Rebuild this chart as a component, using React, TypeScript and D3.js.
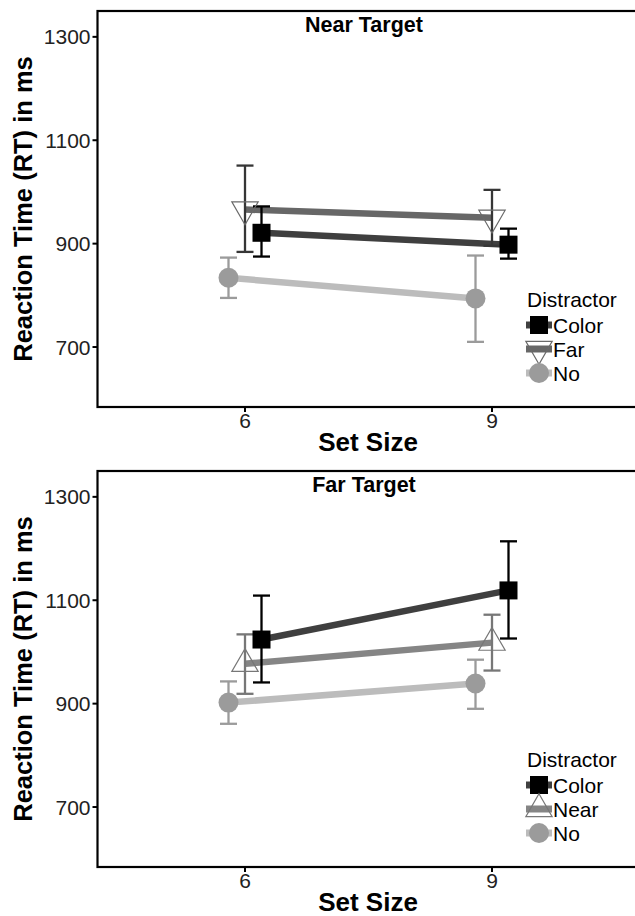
import React from 'react';
import * as d3 from 'd3';

// values (ms)
const setSizes = ['6', '9'];
const yTicks = [700, 900, 1100, 1300];

const nearDistractors = ['Color', 'Far', 'No'];
const nearMean = [[921, 898], [966, 950], [834, 794]];
const nearLow = [[875, 871], [884, 896], [795, 710]];
const nearHigh = [[972, 929], [1051, 1004], [873, 877]];

const farDistractors = ['Color', 'Near', 'No'];
const farMean = [[1024, 1119], [977, 1018], [902, 939]];
const farLow = [[941, 1026], [919, 964], [861, 890]];
const farHigh = [[1109, 1214], [1034, 1072], [943, 985]];

const W = 635;
const H = 916;
const FONT = '"Liberation Sans", Arial, Helvetica, sans-serif';

const styles = {
  Color: { line: '#3f3f3f', err: '#000', shape: 'square', fill: '#000', stroke: 'none', dodge: 16.5 },
  Far: { line: '#676767', err: '#363636', shape: 'tridown', fill: 'none', stroke: '#6a6a6a', dodge: 0 },
  Near: { line: '#858585', err: '#777', shape: 'triup', fill: 'none', stroke: '#777', dodge: 0 },
  No: { line: '#bcbcbc', err: '#9b9b9b', shape: 'circle', fill: '#9b9b9b', stroke: 'none', dodge: -16.5 },
};

const symbolPath = (shape) => {
  if (shape === 'square') return d3.symbol(d3.symbolSquare, 324)();
  if (shape === 'circle') return d3.symbol(d3.symbolCircle, 314)();
  return d3.symbol(d3.symbolTriangle, 300)();
};

const Marker = ({ shape, x, y, fill, stroke }) => (
  <path
    d={symbolPath(shape)}
    transform={`translate(${x},${y})${shape === 'tridown' ? ' rotate(180)' : ''}`}
    fill={fill}
    stroke={stroke}
    strokeWidth={1.2}
  />
);

const Panel = ({ top, title, distractors, mean, low, high }) => {
  const left = 97.5;
  const plotTop = 11;
  const plotBottom = 407;
  const x = d3.scalePoint().domain(setSizes).range([245, 492]);
  const y = d3.scaleLinear().domain([584, 1350]).range([plotBottom, plotTop]);
  const line = d3.line();

  return (
    <g transform={`translate(0,${top})`} fontFamily={FONT}>
      {/* lines */}
      {distractors.map((d, i) => {
        const s = styles[d];
        const pts = setSizes.map((k, j) => [x(k) + s.dodge, y(mean[i][j])]);
        return <path key={d} d={line(pts)} stroke={s.line} strokeWidth={6.5} fill="none" />;
      })}
      {/* error bars */}
      {distractors.map((d, i) => {
        const s = styles[d];
        return setSizes.map((k, j) => {
          const cx = x(k) + s.dodge;
          return (
            <g key={d + k} stroke={s.err} strokeWidth={2.3}>
              <line x1={cx} x2={cx} y1={y(low[i][j])} y2={y(high[i][j])} />
              <line x1={cx - 8.5} x2={cx + 8.5} y1={y(low[i][j])} y2={y(low[i][j])} />
              <line x1={cx - 8.5} x2={cx + 8.5} y1={y(high[i][j])} y2={y(high[i][j])} />
            </g>
          );
        });
      })}
      {/* points */}
      {distractors.map((d, i) => {
        const s = styles[d];
        return setSizes.map((k, j) => (
          <Marker key={d + k} shape={s.shape} x={x(k) + s.dodge} y={y(mean[i][j])} fill={s.fill} stroke={s.stroke} />
        ));
      })}

      {/* frame */}
      <rect x={left} y={plotTop} width={545} height={plotBottom - plotTop} fill="none" stroke="#000" strokeWidth={2.2} />

      {/* y axis */}
      {yTicks.map((t) => (
        <g key={t}>
          <line x1={left - 5} x2={left} y1={y(t)} y2={y(t)} stroke="#000" strokeWidth={2} />
          <text x={left - 7} y={y(t)} dy="0.36em" textAnchor="end" fontSize={21} fill="#222">
            {t}
          </text>
        </g>
      ))}
      {/* x axis */}
      {setSizes.map((k) => (
        <g key={k}>
          <line x1={x(k)} x2={x(k)} y1={plotBottom} y2={plotBottom + 5} stroke="#000" strokeWidth={2} />
          <text x={x(k)} y={plotBottom + 21} textAnchor="middle" fontSize={21} fill="#222">
            {k}
          </text>
        </g>
      ))}

      <text x={364} y={32} textAnchor="middle" fontSize={21.5} fontWeight="bold" fill="#000">
        {title}
      </text>
      <text x={368} y={451} textAnchor="middle" fontSize={26} fontWeight="bold" fill="#000">
        Set Size
      </text>
      <text
        transform={`translate(32,${(plotTop + plotBottom) / 2}) rotate(-90)`}
        textAnchor="middle"
        fontSize={25.5}
        fontWeight="bold"
        fill="#000"
      >
        Reaction Time (RT) in ms
      </text>

      {/* legend */}
      <g transform="translate(526,0)">
        <text x={1} y={307} fontSize={21} fill="#000">
          Distractor
        </text>
        {distractors.map((d, i) => {
          const s = styles[d];
          const cy = 325 + i * 24;
          return (
            <g key={d}>
              <line x1={0} x2={26} y1={cy} y2={cy} stroke={s.line} strokeWidth={7} />
              <Marker shape={s.shape} x={13} y={cy} fill={s.fill} stroke={s.stroke} />
              <text x={27} y={cy} dy="0.36em" fontSize={21} fill="#000">
                {d}
              </text>
            </g>
          );
        })}
      </g>
    </g>
  );
}

export default function App() {
  return (
    <svg width={W} height={H} style={{ position: 'absolute', left: 0, top: 0, background: '#fff' }}>
      <rect width={W} height={H} fill="#fff" />
      <Panel top={0} title="Near Target" distractors={nearDistractors} mean={nearMean} low={nearLow} high={nearHigh} />
      <Panel top={460} title="Far Target" distractors={farDistractors} mean={farMean} low={farLow} high={farHigh} />
    </svg>
  );
}
